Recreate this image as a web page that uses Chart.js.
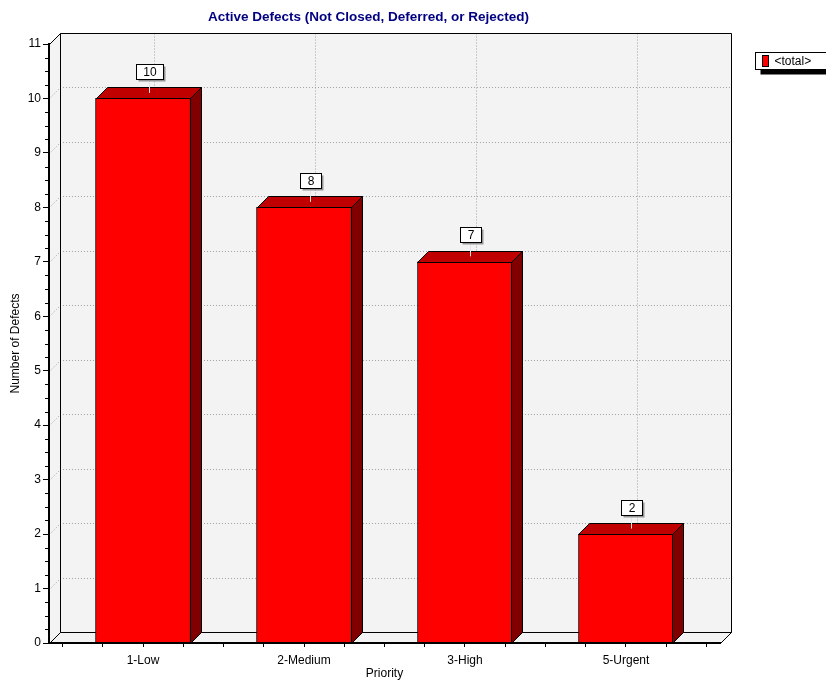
<!DOCTYPE html>
<html>
<head>
<meta charset="utf-8">
<title>Active Defects</title>
<script src="https://cdn.jsdelivr.net/npm/chart.js@4.4.1/dist/chart.umd.min.js"></script>
<style>
    html, body { margin: 0; padding: 0; background: #fff; }
    #wrap { width: 826px; height: 681px; position: relative; }
</style>
</head>
<body>
<div id="wrap"><canvas id="defectsChart"></canvas></div>
<script>
'use strict';

// Chart data
const categories = ['1-Low', '2-Medium', '3-High', '5-Urgent'];
const defectCounts = [10, 8, 7, 2];
const seriesLabel = '<total>';
const yTickValues = [0, 1, 2, 3, 4, 5, 6, 7, 8, 9, 10, 11];

const chartTitle = 'Active Defects (Not Closed, Deferred, or Rejected)';

const colors = {
    front: '#ff0000',
    top: '#c00000',
    side: '#800000',
    wall: '#f3f3f3',
    grid: '#a0a0a0',
    title: '#000080',
    shadow: '#959595'
};

const depth = 11;          // 3D offset in px
const xPad = 0.584;        // room left/right of the outer categories
const fontFamily = "'Liberation Sans', Arial, sans-serif";

Chart.defaults.font.family = fontFamily;
Chart.defaults.font.size = 12;
Chart.defaults.color = '#000';

function line(ctx, pts) {
    ctx.beginPath();
    ctx.moveTo(pts[0][0], pts[0][1]);
    for (let i = 1; i < pts.length; i++) ctx.lineTo(pts[i][0], pts[i][1]);
    ctx.stroke();
}

function poly(ctx, pts, fill) {
    ctx.beginPath();
    ctx.moveTo(pts[0][0], pts[0][1]);
    for (let i = 1; i < pts.length; i++) ctx.lineTo(pts[i][0], pts[i][1]);
    ctx.closePath();
    ctx.fillStyle = fill;
    ctx.fill();
    ctx.stroke();
}

// back wall, left wall, floor and the dotted grid
const walls3d = {
    id: 'walls3d',
    beforeDraw: function (chart) {
        const ctx = chart.ctx;
        const a = chart.chartArea;
        const x = chart.scales.x, y = chart.scales.y;
        const d = depth;
        const L = Math.round(a.left) + 0.5, R = Math.round(a.right) + 0.5;
        const T = Math.round(a.top) + 0.5, B = Math.round(a.bottom) + 0.5;

        ctx.save();
        ctx.lineWidth = 1;
        ctx.strokeStyle = colors.wall;
        poly(ctx, [[L + d, T - d], [R + d, T - d], [R + d, B - d], [L + d, B - d]], colors.wall);
        poly(ctx, [[L, T], [L + d, T - d], [L + d, B - d], [L, B]], colors.wall);
        poly(ctx, [[L, B], [L + d, B - d], [R + d, B - d], [R, B]], colors.wall);

        // dotted grid
        ctx.strokeStyle = colors.grid;
        ctx.setLineDash([1, 2]);
        yTickValues.forEach(function (v) {
            const py = Math.round(y.getPixelForValue(v)) + 0.5;
            line(ctx, [[L, py], [L + d, py - d], [R + d, py - d]]);
        });
        categories.forEach(function (c, i) {
            const px = Math.round(x.getPixelForValue(i)) + 0.5 + d;
            line(ctx, [[px, T - d], [px, B - d]]);
        });

        // outline
        ctx.setLineDash([]);
        ctx.strokeStyle = '#000';
        line(ctx, [[L, T], [L + d, T - d], [R + d, T - d], [R + d, B - d], [R, B]]);
        line(ctx, [[L + d, T - d], [L + d, B - d], [R + d, B - d]]);
        line(ctx, [[L, B], [L + d, B - d]]);
        ctx.restore();
    }
};

// top and side faces of the bars plus the value boxes
const bars3d = {
    id: 'bars3d',
    afterDatasetsDraw: function (chart) {
        const ctx = chart.ctx;
        const d = depth;
        const meta = chart.getDatasetMeta(0);

        ctx.save();
        ctx.lineWidth = 1;
        ctx.strokeStyle = '#000';
        meta.data.forEach(function (bar, i) {
            const p = bar.getProps(['x', 'y', 'base', 'width'], true);
            const l = Math.round(p.x - p.width / 2) + 0.5;
            const r = Math.round(p.x + p.width / 2) - 0.5;
            const top = Math.round(p.y) + 0.5;
            const base = Math.round(p.base) + 0.5;

            poly(ctx, [[l, top], [l + d, top - d], [r + d, top - d], [r, top]], colors.top);
            poly(ctx, [[r, top], [r + d, top - d], [r + d, base - d], [r, base]], colors.side);
        });

        // value labels
        ctx.font = '12px ' + fontFamily;
        ctx.textAlign = 'center';
        ctx.textBaseline = 'middle';
        meta.data.forEach(function (bar, i) {
            const p = bar.getProps(['x', 'y'], true);
            const txt = String(defectCounts[i]);
            const ax = Math.round(p.x + d / 2) + 0.5;
            const ay = p.y - d / 2;
            const w = Math.round(ctx.measureText(txt).width + 14);
            const h = 15;
            const bx = Math.round(ax - w / 2) + 0.5;
            const by = Math.round(ay - 14 - h) + 0.5;

            ctx.strokeStyle = '#e6e6e6';
            line(ctx, [[ax, ay], [ax, by + h]]);

            ctx.fillStyle = colors.shadow;
            ctx.fillRect(bx + 2, by + 2, w, h);
            ctx.fillStyle = '#fff';
            ctx.fillRect(bx, by, w, h);
            ctx.strokeStyle = '#000';
            ctx.strokeRect(bx, by, w, h);

            ctx.fillStyle = '#000';
            ctx.fillText(txt, bx + w / 2, by + h / 2 + 0.5);
        });
        ctx.restore();
    }
};

// minor y ticks, title and legend
const extras = {
    id: 'extras',
    afterDraw: function (chart) {
        const ctx = chart.ctx;
        const a = chart.chartArea;
        const y = chart.scales.y;

        ctx.save();
        ctx.lineWidth = 1;
        ctx.strokeStyle = '#000';
        for (let v = y.min; v < y.max; v += 0.25) {
            if (Number.isInteger(v)) continue;
            const py = Math.round(y.getPixelForValue(v)) + 0.5;
            line(ctx, [[a.left - 4, py], [a.left, py]]);
        }

        // title
        ctx.font = 'bold 13.5px ' + fontFamily;
        ctx.fillStyle = colors.title;
        ctx.textAlign = 'center';
        ctx.textBaseline = 'middle';
        ctx.fillText(chartTitle, (a.right + depth + 6) / 2, 17);

        // legend
        const lx = Math.round(a.right) + 35.5, ly = 52.5;
        ctx.fillStyle = '#000';
        ctx.fillRect(lx + 5, ly + 5, 120, 17);
        ctx.fillStyle = '#fff';
        ctx.fillRect(lx, ly, 120, 17);
        ctx.strokeRect(lx, ly, 120, 17);
        ctx.fillStyle = colors.front;
        ctx.fillRect(lx + 7, ly + 3, 6, 11);
        ctx.strokeRect(lx + 7, ly + 3, 6, 11);
        ctx.font = '12px ' + fontFamily;
        ctx.fillStyle = '#000';
        ctx.textAlign = 'left';
        ctx.fillText(seriesLabel, lx + 19, ly + 9);
        ctx.restore();
    }
};

const ctxDefects = document.getElementById('defectsChart');
new Chart(ctxDefects, {
    type: 'bar',
    data: {
        datasets: [{
            label: seriesLabel,
            data: categories.map(function (c, i) { return { x: i, y: defectCounts[i] }; }),
            backgroundColor: colors.front,
            borderColor: '#000',
            borderWidth: 1,
            barThickness: 95
        }]
    },
    options: {
        responsive: true,
        maintainAspectRatio: false,
        animation: false,
        layout: {
            padding: { top: 44, right: 106, left: 0, bottom: 0 }
        },
        scales: {
            x: {
                type: 'linear',
                offset: false,
                min: -xPad,
                max: categories.length - 1 + xPad,
                grid: {
                    drawOnChartArea: false,
                    drawTicks: true,
                    tickLength: 4,
                    tickColor: '#000',
                    offset: false
                },
                border: { color: '#000', width: 2, z: 1 },
                ticks: {
                    stepSize: 0.25,
                    autoSkip: false,
                    includeBounds: false,
                    maxRotation: 0,
                    padding: 6,
                    callback: function (v) {
                        const k = Math.round(v);
                        return Math.abs(v - k) < 1e-6 ? categories[k] : '';
                    }
                },
                title: { display: true, text: 'Priority', padding: 0 },
                afterFit: function (s) { s.height = 38; }
            },
            y: {
                min: 0,
                max: 11,
                grid: {
                    drawOnChartArea: false,
                    tickLength: 6,
                    tickColor: '#000'
                },
                border: { color: '#000', width: 2, z: 1 },
                ticks: { stepSize: 1, padding: 2 },
                afterBuildTicks: function (s) {
                    s.ticks = yTickValues.map(function (v) { return { value: v }; });
                },
                title: { display: true, text: 'Number of Defects', padding: { top: 8, bottom: 0 } },
                afterFit: function (s) { s.width = 49; }
            }
        },
        plugins: {
            legend: { display: false },
            title: { display: false },
            tooltip: { enabled: false }
        }
    },
    plugins: [walls3d, bars3d, extras]
});
</script>
</body>
</html>
